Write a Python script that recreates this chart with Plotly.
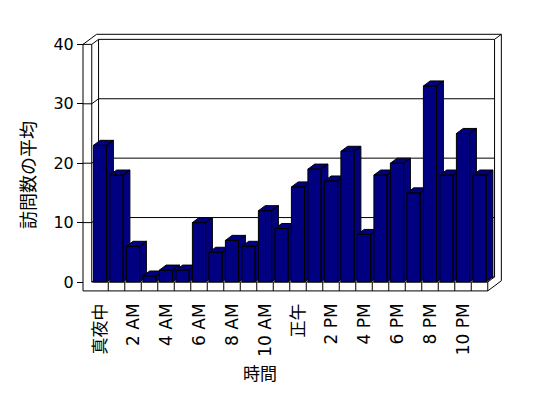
import plotly.graph_objects as go

# ---- data ----
hours = ["真夜中", "1 AM", "2 AM", "3 AM", "4 AM", "5 AM", "6 AM", "7 AM", "8 AM", "9 AM",
         "10 AM", "11 AM", "正午", "1 PM", "2 PM", "3 PM", "4 PM", "5 PM", "6 PM", "7 PM",
         "8 PM", "9 PM", "10 PM", "11 PM"]
visits = [23, 18, 6, 1, 2, 2, 10, 5, 7, 6, 12, 9, 16, 19, 17, 22, 8, 18, 20, 15, 33, 18, 25, 18]
tick_labels = ["真夜中", "2 AM", "4 AM", "6 AM", "8 AM", "10 AM", "正午", "2 PM", "4 PM",
               "6 PM", "8 PM", "10 PM"]
y_ticks = [0, 10, 20, 30, 40]
x_title = "時間"
y_title = "訪問数の平均"

# ---- style / geometry constants ----
NAVY = "#000080"
FONT = "DejaVu Sans, Noto Sans CJK JP, sans-serif"
BW = 0.4          # half width of bar front face (category units)
DX = 0.412        # depth offset, x (category units)
DY = 0.85         # depth offset, y (value units)
n = len(visits)
xL = -0.5
xR = n - 0.5
xLo = xL - 0.53   # outer face of left wall
vTop = y_ticks[-1]
vF = -1.5         # bottom of floor slab

fig = go.Figure()

# bars: side, top, front faces (drawn left to right)
for i, v in enumerate(visits):
    xs = [i + BW, i + BW, i + BW + DX, i + BW + DX, i + BW, None,
          i - BW, i + BW, i + BW + DX, i - BW + DX, i - BW, None,
          i - BW, i + BW, i + BW, i - BW, i - BW]
    ys = [0, v, v + DY, DY, 0, None,
          v, v, v + DY, v + DY, v, None,
          0, 0, v, v, 0]
    fig.add_trace(go.Scatter(x=xs, y=ys, mode="lines", fill="toself",
                             fillcolor=NAVY, line=dict(color="black", width=1),
                             hoverinfo="skip", showlegend=False, name=hours[i]))

# frame (walls / floor) as shapes
segs = []
def seg(x0, y0, x1, y1):
    segs.append(dict(type="line", xref="x", yref="y", x0=x0, y0=y0, x1=x1, y1=y1,
                     line=dict(color="black", width=1), layer="below"))

# left wall front face
seg(xLo, vF, xLo, vTop)
seg(xLo, vTop, xL, vTop)
seg(xL, vTop, xL, 0)
# floor front face
seg(xLo, vF, xR, vF)
seg(xL, 0, xR, 0)
seg(xR, vF, xR, 0)
for k in range(n - 1):
    seg(k + 0.5, vF, k + 0.5, 0)
# floor right side
seg(xR, 0, xR + DX, DY)
seg(xR, vF, xR + 2 * DX, vF + 2 * DY)
# back wall right face
seg(xR + DX, DY, xR + DX, vTop + DY)
seg(xR + 2 * DX, vF + 2 * DY, xR + 2 * DX, vTop + 2 * DY)
seg(xR + DX, vTop + DY, xR + 2 * DX, vTop + 2 * DY)
# floor / back wall junction
seg(xL + DX, DY, xR + DX, DY)
# back wall tops
seg(xL + DX, vTop + DY, xR + DX, vTop + DY)
seg(xLo + 2 * DX, vTop + 2 * DY, xR + 2 * DX, vTop + 2 * DY)
# left wall top
seg(xLo, vTop, xLo + 2 * DX, vTop + 2 * DY)
seg(xL, vTop, xL + DX, vTop + DY)
# left wall / back wall corner and inner bottom
seg(xL + DX, DY, xL + DX, vTop + DY)
seg(xL, 0, xL + DX, DY)
# gridlines
for t in y_ticks[1:-1]:
    seg(xLo, t, xL, t)
    seg(xL, t, xL + DX, t + DY)
    seg(xL + DX, t + DY, xR + DX, t + DY)

L, R, T, B = 76, 40, 28, 102
W = 548 - L - R
H = 398 - T - B
fig.update_layout(
    width=548, height=398,
    margin=dict(l=L, r=R, t=T, b=B, pad=0, autoexpand=False),
    paper_bgcolor="white", plot_bgcolor="white",
    showlegend=False, hovermode=False,
    font=dict(family=FONT, size=16, color="black"),
    shapes=segs,
    xaxis=dict(range=[-1.4545, 24.727], tickmode="array",
               tickvals=[hours.index(t) for t in tick_labels], ticktext=tick_labels,
               tickangle=-90, ticks="", showgrid=False, zeroline=False, showline=False,
               tickfont=dict(size=17), fixedrange=True, automargin=False,
               ticklabelstandoff=3),
    yaxis=dict(range=[-2.357, 42.76], tickmode="array", tickvals=y_ticks,
               ticks="outside", ticklen=6, tickcolor="black", tickwidth=1,
               showgrid=False, zeroline=False, showline=False,
               anchor="free", position=(83 - L) / W,
               tickfont=dict(size=16), fixedrange=True, automargin=False),
    annotations=[
        dict(text=x_title, xref="paper", yref="paper", x=(260 - L) / W, y=-(374 - (398 - B)) / H,
             showarrow=False, font=dict(size=17), xanchor="center", yanchor="middle"),
        dict(text=y_title, xref="paper", yref="paper", x=(28 - L) / W, y=(398 - B - 175) / H,
             showarrow=False, font=dict(size=18), textangle=-90, xanchor="center", yanchor="middle"),
    ],
)

fig.write_html("out.html", config={"displayModeBar": False},
               post_script="document.body.style.margin='0px';document.body.style.overflow='hidden';")
